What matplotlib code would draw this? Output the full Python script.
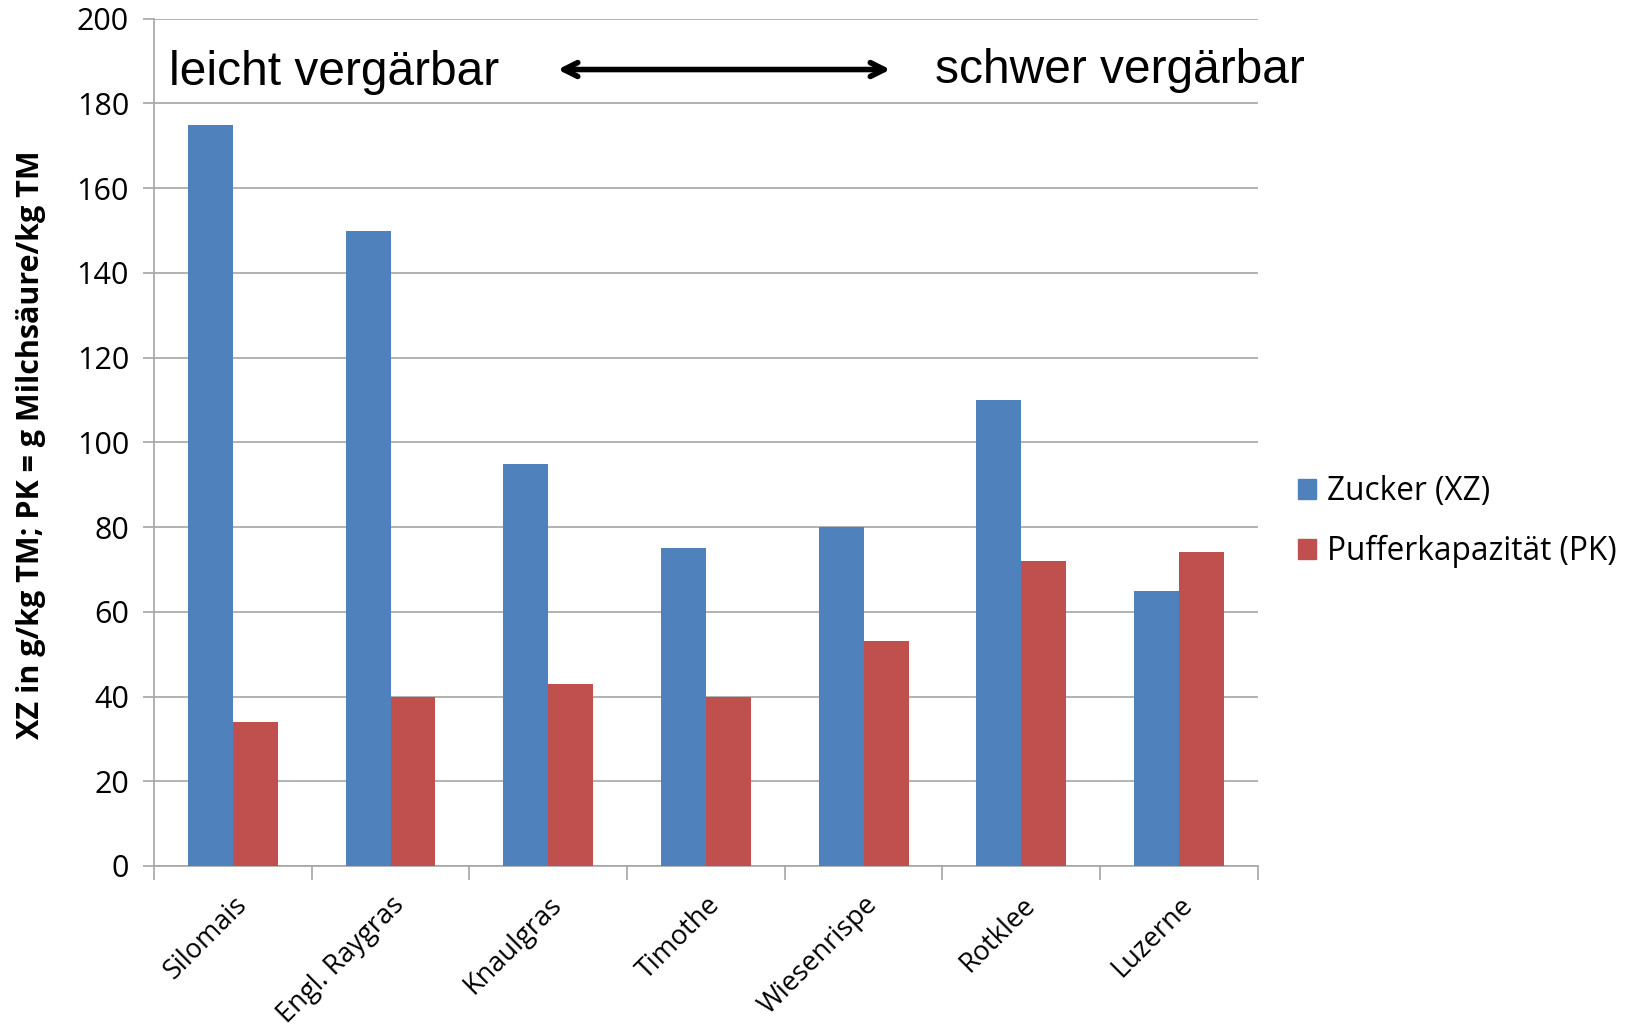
import numpy as np
import matplotlib
matplotlib.use("Agg")
import matplotlib.pyplot as plt
from matplotlib.patches import Patch

# Zucker und Pufferkapazitaet je Futterpflanze
pflanzen = ["Silomais", "Engl. Raygras", "Knaulgras", "Timothe",
            "Wiesenrispe", "Rotklee", "Luzerne"]
zucker = [175, 150, 95, 75, 80, 110, 65]
puffer = [34, 40, 43, 40, 53, 72, 74]
y_ticks = list(range(0, 201, 20))

BLAU = "#4F81BD"
ROT = "#C0504D"
GRAU = "#A6A6A6"

plt.rcParams["font.family"] = ["Open Sans", "DejaVu Sans"]

fig = plt.figure(figsize=(16.28, 10.27), dpi=100)
ax = fig.add_axes([0.0946, 0.1568, 0.678, 0.825])

x = np.arange(len(pflanzen))
w = 0.285
ax.bar(x - w / 2, zucker, w, color=BLAU, zorder=3, label="Zucker (XZ)")
ax.bar(x + w / 2, puffer, w, color=ROT, zorder=3, label="Pufferkapazität (PK)")

ax.set_xlim(-0.5, len(pflanzen) - 0.5)
ax.set_ylim(0, 200)
ax.set_yticks(y_ticks)
ax.tick_params(axis="y", labelsize=22, length=8, width=1.2, color=GRAU, pad=10)
ax.yaxis.grid(True, color=GRAU, lw=1.2, zorder=0)

# Kategorien mittig, Teilstriche an den Grenzen
ax.set_xticks(x)
ax.set_xticklabels(pflanzen, rotation=45, ha="right", va="top",
                   rotation_mode="anchor", fontsize=19.5)
ax.tick_params(axis="x", length=0, pad=18)
ax.set_xticks(np.arange(-0.5, len(pflanzen)), minor=True)
ax.tick_params(axis="x", which="minor", length=10, width=1.2, color=GRAU)

for s in ["top", "right"]:
    ax.spines[s].set_visible(False)
for s in ["left", "bottom"]:
    ax.spines[s].set_color(GRAU)
    ax.spines[s].set_linewidth(1.2)

ax.set_ylabel("XZ in g/kg TM; PK = g Milchsäure/kg TM", fontsize=22,
              fontweight="bold", va="center")
ax.yaxis.set_label_coords(-0.111, 0.497)

# Vergaerbarkeit oben im Diagramm
ax.text(-0.405, 184.4, "leicht vergärbar", fontsize=34.5, family="Liberation Sans",
        va="baseline", ha="left", zorder=5)
ax.text(4.455, 184.8, "schwer vergärbar", fontsize=34.5, family="Liberation Sans",
        va="baseline", ha="left", clip_on=False, zorder=5)
ax.annotate("", xy=(2.06, 188), xytext=(4.17, 188),
            arrowprops=dict(arrowstyle="<->,head_length=1.0,head_width=0.5",
                            lw=4, color="black", shrinkA=0, shrinkB=0),
            zorder=5)

handles = [Patch(color=BLAU), Patch(color=ROT)]
fig.legend(handles, ["Zucker (XZ)", "Pufferkapazität (PK)"],
           loc="center left", bbox_to_anchor=(0.797, 0.492),
           frameon=False, fontsize=22.7, handlelength=0.6, handleheight=0.6,
           handletextpad=0.35, labelspacing=0.85, borderpad=0, borderaxespad=0)

fig.savefig("out.png", dpi=100)
